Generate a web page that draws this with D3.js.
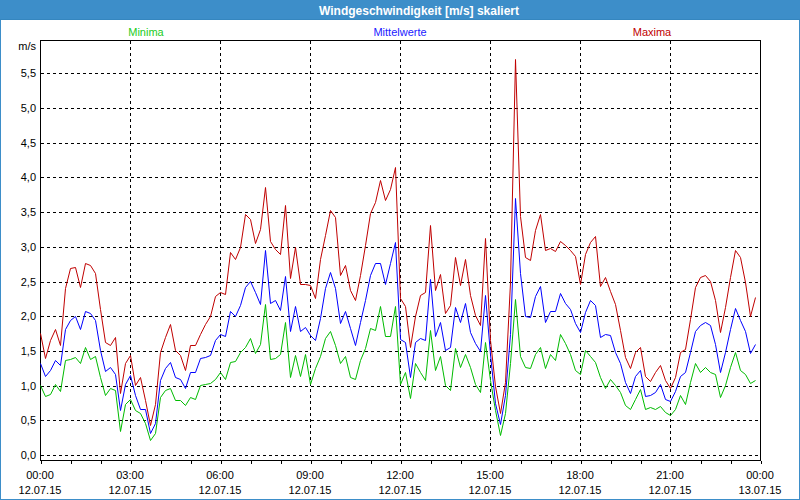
<!DOCTYPE html>
<html>
<head>
<meta charset="utf-8">
<script src="https://cdn.jsdelivr.net/npm/d3@7/dist/d3.min.js"></script>
<style>
  html, body { margin: 0; padding: 0; background: #ffffff; }
  svg { display: block; }
  text { font-family: "Liberation Sans", Arial, sans-serif; }
</style>
</head>
<body>
<svg id="chart" width="800" height="500"></svg>
<script>
// ---------- data ----------
const title = "Windgeschwindigkeit [m/s] skaliert";
const seriesNames = ["Minima", "Mittelwerte", "Maxima"];
const startTime = "2015-07-12T00:00:00";
const stepMinutes = 10;

const minima = [
  1.01,0.85,0.88,1.03,0.92,1.37,1.38,1.41,1.33,1.56,
  1.39,1.42,1.13,0.86,0.97,0.93,0.34,0.74,0.81,0.65,
  0.60,0.46,0.21,0.31,0.84,0.94,0.96,0.79,0.79,0.72,
  0.84,0.80,1.01,1.03,1.04,1.10,1.20,1.10,1.34,1.35,
  1.49,1.56,1.68,1.47,1.60,2.18,1.39,1.40,1.45,1.92,
  1.13,1.44,1.14,1.46,1.03,1.25,1.42,1.69,1.78,1.59,
  1.32,1.42,1.13,1.10,1.37,1.54,1.83,1.80,2.14,1.71,
  1.71,2.14,1.03,1.20,0.82,1.32,1.20,1.08,1.80,1.22,
  1.42,1.01,0.94,1.54,1.27,1.46,1.27,1.03,0.91,1.63,
  1.08,0.65,0.29,0.60,1.32,2.25,1.42,1.27,1.26,1.46,
  1.56,1.25,1.46,1.37,1.74,1.61,1.45,1.22,1.17,1.52,
  1.42,1.34,1.12,0.97,1.10,1.01,0.91,0.72,0.67,0.81,
  0.95,0.67,0.69,0.66,0.71,0.62,0.57,0.67,0.86,0.74,
  1.05,1.32,1.19,1.27,1.20,1.16,0.84,1.01,1.27,1.49,
  1.23,1.16,1.04,1.08
];
const mittelwerte = [
  1.33,1.14,1.22,1.37,1.29,1.81,1.94,2.01,1.82,2.07,
  2.05,1.94,1.51,1.21,1.27,1.17,0.65,1.03,1.15,0.86,
  0.67,0.67,0.31,0.46,1.08,1.25,1.34,1.13,1.09,0.97,
  1.19,1.20,1.40,1.41,1.44,1.65,1.74,1.71,2.08,2.01,
  2.16,2.42,2.51,2.35,2.18,2.96,2.19,2.23,2.09,2.58,
  1.78,2.15,1.79,1.85,1.73,1.65,1.97,2.40,2.63,2.40,
  1.90,2.07,1.83,1.58,1.92,2.23,2.59,2.76,2.76,2.47,
  2.76,3.07,1.67,1.63,1.13,1.63,1.68,1.66,2.53,1.72,
  1.92,1.51,1.55,2.13,1.92,2.19,1.77,1.62,1.50,2.31,
  1.45,0.75,0.44,0.87,1.75,3.70,2.62,2.01,1.99,2.29,
  2.44,1.91,2.07,2.08,2.33,2.19,2.11,1.90,1.77,2.06,
  2.24,2.16,1.70,1.74,1.73,1.49,1.32,1.05,0.90,1.14,
  1.23,0.85,0.86,0.91,1.03,0.80,0.78,0.92,1.14,1.20,
  1.49,1.79,1.88,1.92,1.88,1.60,1.20,1.49,1.81,2.12,
  1.94,1.79,1.47,1.60
];
const maxima = [
  1.76,1.40,1.65,1.82,1.58,2.40,2.70,2.71,2.42,2.77,
  2.74,2.62,2.10,1.63,1.59,1.70,0.89,1.32,1.44,1.01,
  1.12,0.79,0.43,0.74,1.49,1.70,1.89,1.51,1.44,1.22,
  1.58,1.58,1.75,1.89,2.00,2.29,2.35,2.32,2.92,2.83,
  3.00,3.47,3.40,3.05,3.26,3.86,3.09,2.97,2.90,3.60,
  2.55,3.00,2.47,2.47,2.45,2.26,2.83,3.17,3.53,3.43,
  2.59,2.74,2.38,2.23,2.59,3.03,3.48,3.65,3.96,3.67,
  3.84,4.15,2.26,2.15,1.56,2.00,2.30,2.35,3.31,2.38,
  2.61,2.04,2.16,2.85,2.45,2.82,2.30,2.02,1.87,3.12,
  1.66,1.00,0.60,1.05,2.50,5.70,3.45,2.85,2.81,3.24,
  3.47,2.95,2.98,2.94,3.08,3.02,2.95,2.87,2.47,2.90,
  3.07,3.15,2.44,2.56,2.37,2.18,1.80,1.41,1.25,1.49,
  1.55,1.14,1.07,1.20,1.29,1.08,0.97,1.12,1.49,1.53,
  1.96,2.42,2.56,2.59,2.51,2.23,1.77,2.13,2.57,2.96,
  2.85,2.49,2.01,2.28
];

const xTickTimes = ["00:00","03:00","06:00","09:00","12:00","15:00","18:00","21:00","00:00"];
const xTickDates = ["12.07.15","12.07.15","12.07.15","12.07.15","12.07.15","12.07.15","12.07.15","12.07.15","13.07.15"];
const yTicks = [0,0.5,1,1.5,2,2.5,3,3.5,4,4.5,5,5.5];
const yUnit = "m/s";

// ---------- layout ----------
const W = 800, H = 500;
const colors = { Minima: "#00bb00", Mittelwerte: "#0000ff", Maxima: "#c00000" };
const legendColors = { Minima: "#22cc22", Mittelwerte: "#1a1aff", Maxima: "#c00000" };

const svg = d3.select("#chart");
const t0 = new Date(startTime);
const t1 = d3.timeDay.offset(t0, 1);
const x = d3.scaleTime().domain([t0, t1]).range([40, 760]);
const y = d3.scaleLinear().domain([0, 5.5]).range([455, 73.3]);
const times = minima.map((_, i) => d3.timeMinute.offset(t0, i * stepMinutes));

// window frame
svg.append("rect").attr("x", 0).attr("y", 0).attr("width", W).attr("height", H).attr("fill", "#ffffff");
svg.append("rect").attr("x", 0.5).attr("y", 0.5).attr("width", W - 1).attr("height", H - 1)
  .attr("fill", "none").attr("stroke", "#3d8ec9").attr("stroke-width", 1);
svg.append("rect").attr("x", 0).attr("y", 0).attr("width", W).attr("height", 20).attr("fill", "#3d8ec9");
svg.append("line").attr("x1", 0).attr("x2", W).attr("y1", 19.5).attr("y2", 19.5).attr("stroke", "#3586bf");
svg.append("text").attr("x", 419).attr("y", 14.5).attr("text-anchor", "middle")
  .attr("fill", "#ffffff").attr("font-size", 12).attr("font-weight", "bold").text(title);

// legend
const legendX = [146, 400, 652];
seriesNames.forEach((n, i) => {
  svg.append("text").attr("x", legendX[i]).attr("y", 36).attr("text-anchor", "middle")
    .attr("font-size", 11).attr("fill", legendColors[n]).text(n);
});

// grid
const grid = svg.append("g").attr("stroke", "#000").attr("stroke-width", 1)
  .attr("stroke-dasharray", "3,3").attr("shape-rendering", "crispEdges");
yTicks.forEach(v => {
  const yy = Math.round(y(v)) + 0.5;
  grid.append("line").attr("x1", 41).attr("x2", 760).attr("y1", yy).attr("y2", yy);
});
xTickTimes.slice(1, -1).forEach((_, i) => {
  const xx = Math.round(x(d3.timeHour.offset(t0, (i + 1) * 3))) + 0.5;
  grid.append("line").attr("x1", xx).attr("x2", xx).attr("y1", 41).attr("y2", 455);
});

// frame
const frame = svg.append("g").attr("stroke", "#000").attr("stroke-width", 1).attr("shape-rendering", "crispEdges").attr("fill", "none");
frame.append("path").attr("d", "M40.5,40.5H760.5V460.5H40.5Z");

// x axis tick marks (hourly)
const xAxis = d3.axisBottom(x).ticks(d3.timeHour.every(1)).tickSize(3).tickFormat("");
const gx = svg.append("g").attr("transform", "translate(0.5,460.5)").call(xAxis);
gx.select(".domain").remove();
gx.selectAll("line").attr("stroke", "#000").attr("shape-rendering", "crispEdges");

// x labels
xTickTimes.forEach((lab, i) => {
  const xx = x(d3.timeHour.offset(t0, i * 3));
  svg.append("text").attr("x", xx).attr("y", 479).attr("text-anchor", "middle")
    .attr("font-size", 11).attr("fill", "#000").text(lab);
  svg.append("text").attr("x", xx).attr("y", 494).attr("text-anchor", "middle")
    .attr("font-size", 11).attr("fill", "#000").text(xTickDates[i]);
});

// y axis labels
const fmt = v => d3.format(".1f")(v).replace(".", ",");
const yAxis = d3.axisLeft(y).tickValues(yTicks).tickSize(0).tickPadding(0).tickFormat(fmt);
const gy = svg.append("g").attr("transform", "translate(36,0)").call(yAxis);
gy.select(".domain").remove();
gy.selectAll("text").attr("font-size", 11).attr("fill", "#000")
  .attr("font-family", "Liberation Sans, Arial, sans-serif");
svg.append("text").attr("x", 36).attr("y", 50).attr("text-anchor", "end")
  .attr("font-size", 11).attr("fill", "#000").text(yUnit);

// lines
const line = d3.line().x((d, i) => Math.round(x(times[i])) + 0.5).y(d => Math.round(y(d)) + 0.5);
[[minima, "Minima"], [mittelwerte, "Mittelwerte"], [maxima, "Maxima"]].forEach(([vals, n]) => {
  svg.append("path").datum(vals).attr("d", line).attr("fill", "none")
    .attr("stroke", colors[n]).attr("stroke-width", 1);
});
</script>
</body>
</html>
